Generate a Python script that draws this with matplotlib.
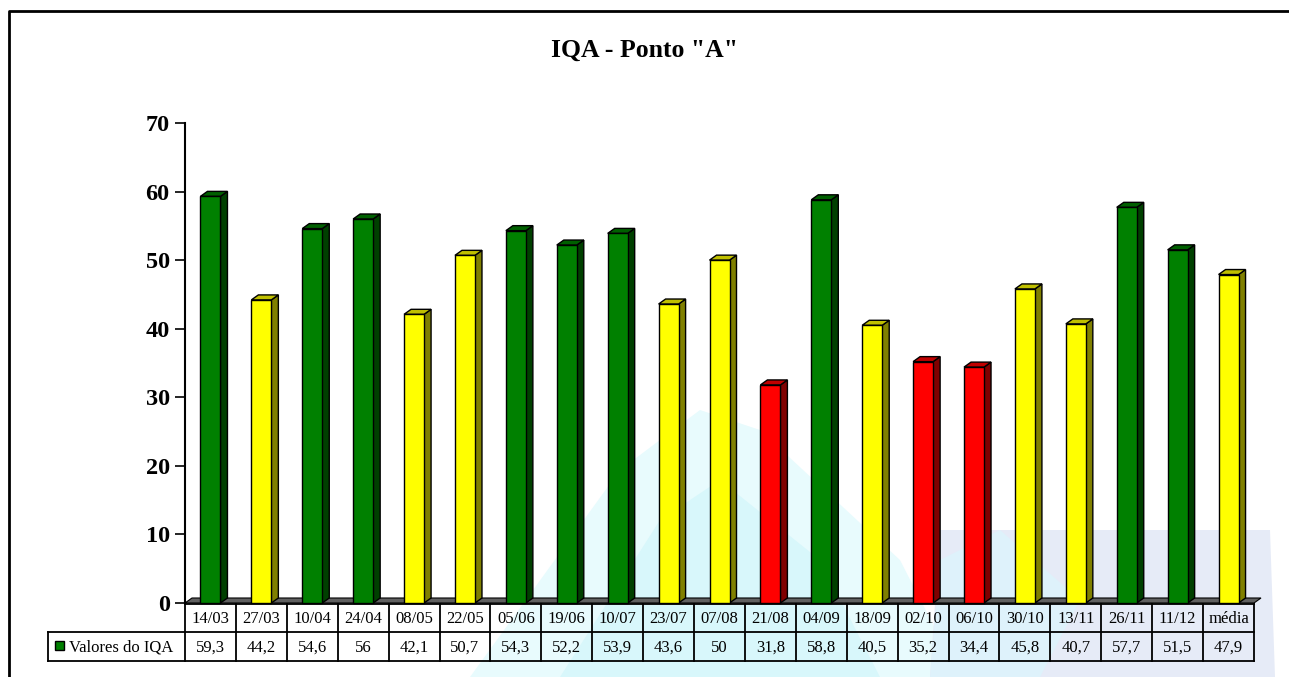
import matplotlib
matplotlib.use("Agg")
import matplotlib.pyplot as plt
from matplotlib.patches import Polygon, Rectangle

# dados
datas = ["14/03", "27/03", "10/04", "24/04", "08/05", "22/05", "05/06",
         "19/06", "10/07", "23/07", "07/08", "21/08", "04/09", "18/09",
         "02/10", "06/10", "30/10", "13/11", "26/11", "11/12", "média"]
valores = [59.3, 44.2, 54.6, 56, 42.1, 50.7, 54.3, 52.2, 53.9, 43.6, 50,
           31.8, 58.8, 40.5, 35.2, 34.4, 45.8, 40.7, 57.7, 51.5, 47.9]
yticks = [0, 10, 20, 30, 40, 50, 60, 70]
serie = "Valores do IQA"
titulo = 'IQA - Ponto "A"'

# faixas de qualidade (frente, lado, topo)
CORES = {
    "boa": ("#008000", "#004000", "#006000"),
    "regular": ("#FFFF00", "#808000", "#C0C000"),
    "ruim": ("#FF0000", "#800000", "#C00000"),
}


def faixa(v):
    if v >= 51:
        return "boa"
    if v >= 36:
        return "regular"
    return "ruim"


plt.rcParams["font.family"] = ["Liberation Serif", "DejaVu Serif"]

W, H = 1289, 677
fig = plt.figure(figsize=(W / 100, H / 100), dpi=100)

# marca d'agua clarinha no fundo
fundo = fig.add_axes([0, 0, 1, 1], zorder=0)
fundo.set_xlim(0, W)
fundo.set_ylim(H, 0)
fundo.axis("off")
fundo.add_patch(Polygon([(470, 677), (620, 470), (700, 410), (760, 430),
                         (900, 560), (960, 677)], closed=True,
                        facecolor="#e8fbfd", edgecolor="none"))
fundo.add_patch(Polygon([(560, 677), (660, 520), (720, 480), (820, 560),
                         (880, 677)], closed=True,
                        facecolor="#d8f7fb", edgecolor="none"))
fundo.add_patch(Polygon([(930, 677), (940, 530), (1270, 530), (1275, 677)],
                        closed=True, facecolor="#e6ebf7", edgecolor="none"))
fundo.add_patch(Polygon([(940, 560), (1000, 530), (1080, 600), (1040, 677),
                         (930, 677)], closed=True,
                        facecolor="#def2fb", edgecolor="none"))
# moldura (esquerda e topo)
fundo.plot([9, 9, W], [H, 11, 11], color="black", lw=2)

# eixo principal
x0, x1 = 185, 1254
y0, y70 = 603, 123
ax = fig.add_axes([x0 / W, 1 - y0 / H, (x1 - x0) / W, (y0 - y70) / H],
                  zorder=1)
ax.patch.set_alpha(0)
n = len(valores)
ax.set_xlim(-0.5, n - 0.5)
ax.set_ylim(0, 70)
ax.set_yticks(yticks)
ax.set_yticklabels([str(t) for t in yticks], fontsize=17.5, fontweight="bold")
ax.tick_params(axis="y", length=7, width=1.2, pad=4)
ax.set_xticks([])
for s in ["top", "right", "bottom"]:
    ax.spines[s].set_visible(False)
ax.spines["left"].set_linewidth(1.5)

# profundidade 3D em unidades de dados
px_x = (x1 - x0) / n
px_y = (y0 - y70) / 70
dx = 7 / px_x
dy = 5 / px_y
larg = 20 / px_x

# piso
ax.add_patch(Polygon([(-0.5, 0), (n - 0.5, 0), (n - 0.5 + dx, dy),
                      (-0.5 + dx, dy)], closed=True, facecolor="#606060",
                     edgecolor="black", lw=0.8, clip_on=False))

for i, v in enumerate(valores):
    frente, lado, topo = CORES[faixa(v)]
    xl = i - larg / 2
    xr = i + larg / 2
    ax.add_patch(Polygon([(xr, 0), (xr + dx, dy), (xr + dx, v + dy), (xr, v)],
                         closed=True, facecolor=lado, edgecolor="black",
                         lw=1, clip_on=False, zorder=3))
    ax.add_patch(Polygon([(xl, v), (xr, v), (xr + dx, v + dy),
                          (xl + dx, v + dy)], closed=True, facecolor=topo,
                         edgecolor="black", lw=1, clip_on=False, zorder=3))
    ax.add_patch(Rectangle((xl, 0), larg, v, facecolor=frente,
                           edgecolor="black", lw=1, clip_on=False, zorder=4))

fig.text(0.5, 1 - 50 / H, titulo, ha="center", va="center",
         fontsize=18.5, fontweight="bold")

# tabela de dados abaixo do eixo
tab = fig.add_axes([0, 0, 1, 1], zorder=2)
tab.patch.set_alpha(0)
tab.set_xlim(0, W)
tab.set_ylim(H, 0)
tab.axis("off")
r0, r1, r2 = 604, 632, 661
esq = 48
larg_cel = (x1 - x0) / n
lw = 1.3
tab.plot([x0, x1], [r0, r0], color="black", lw=lw)
tab.plot([esq, x1], [r1, r1], color="black", lw=lw)
tab.plot([esq, x1], [r2, r2], color="black", lw=lw)
tab.plot([esq, esq], [r1, r2], color="black", lw=lw)
for i in range(n + 1):
    xc = x0 + i * larg_cel
    tab.plot([xc, xc], [r0, r2], color="black", lw=lw)
for i, (d, v) in enumerate(zip(datas, valores)):
    xm = x0 + (i + 0.5) * larg_cel
    tab.text(xm, (r0 + r1) / 2 + 1, d, ha="center", va="center", fontsize=12)
    txt = f"{v:g}".replace(".", ",")
    tab.text(xm, (r1 + r2) / 2 + 1, txt, ha="center", va="center",
             fontsize=12)
tab.add_patch(Rectangle((55, 641), 9, 9, facecolor="#008000",
                        edgecolor="black", lw=1))
tab.text(69, (r1 + r2) / 2 + 1, serie, ha="left", va="center", fontsize=12)

fig.savefig("out.png", dpi=100)
